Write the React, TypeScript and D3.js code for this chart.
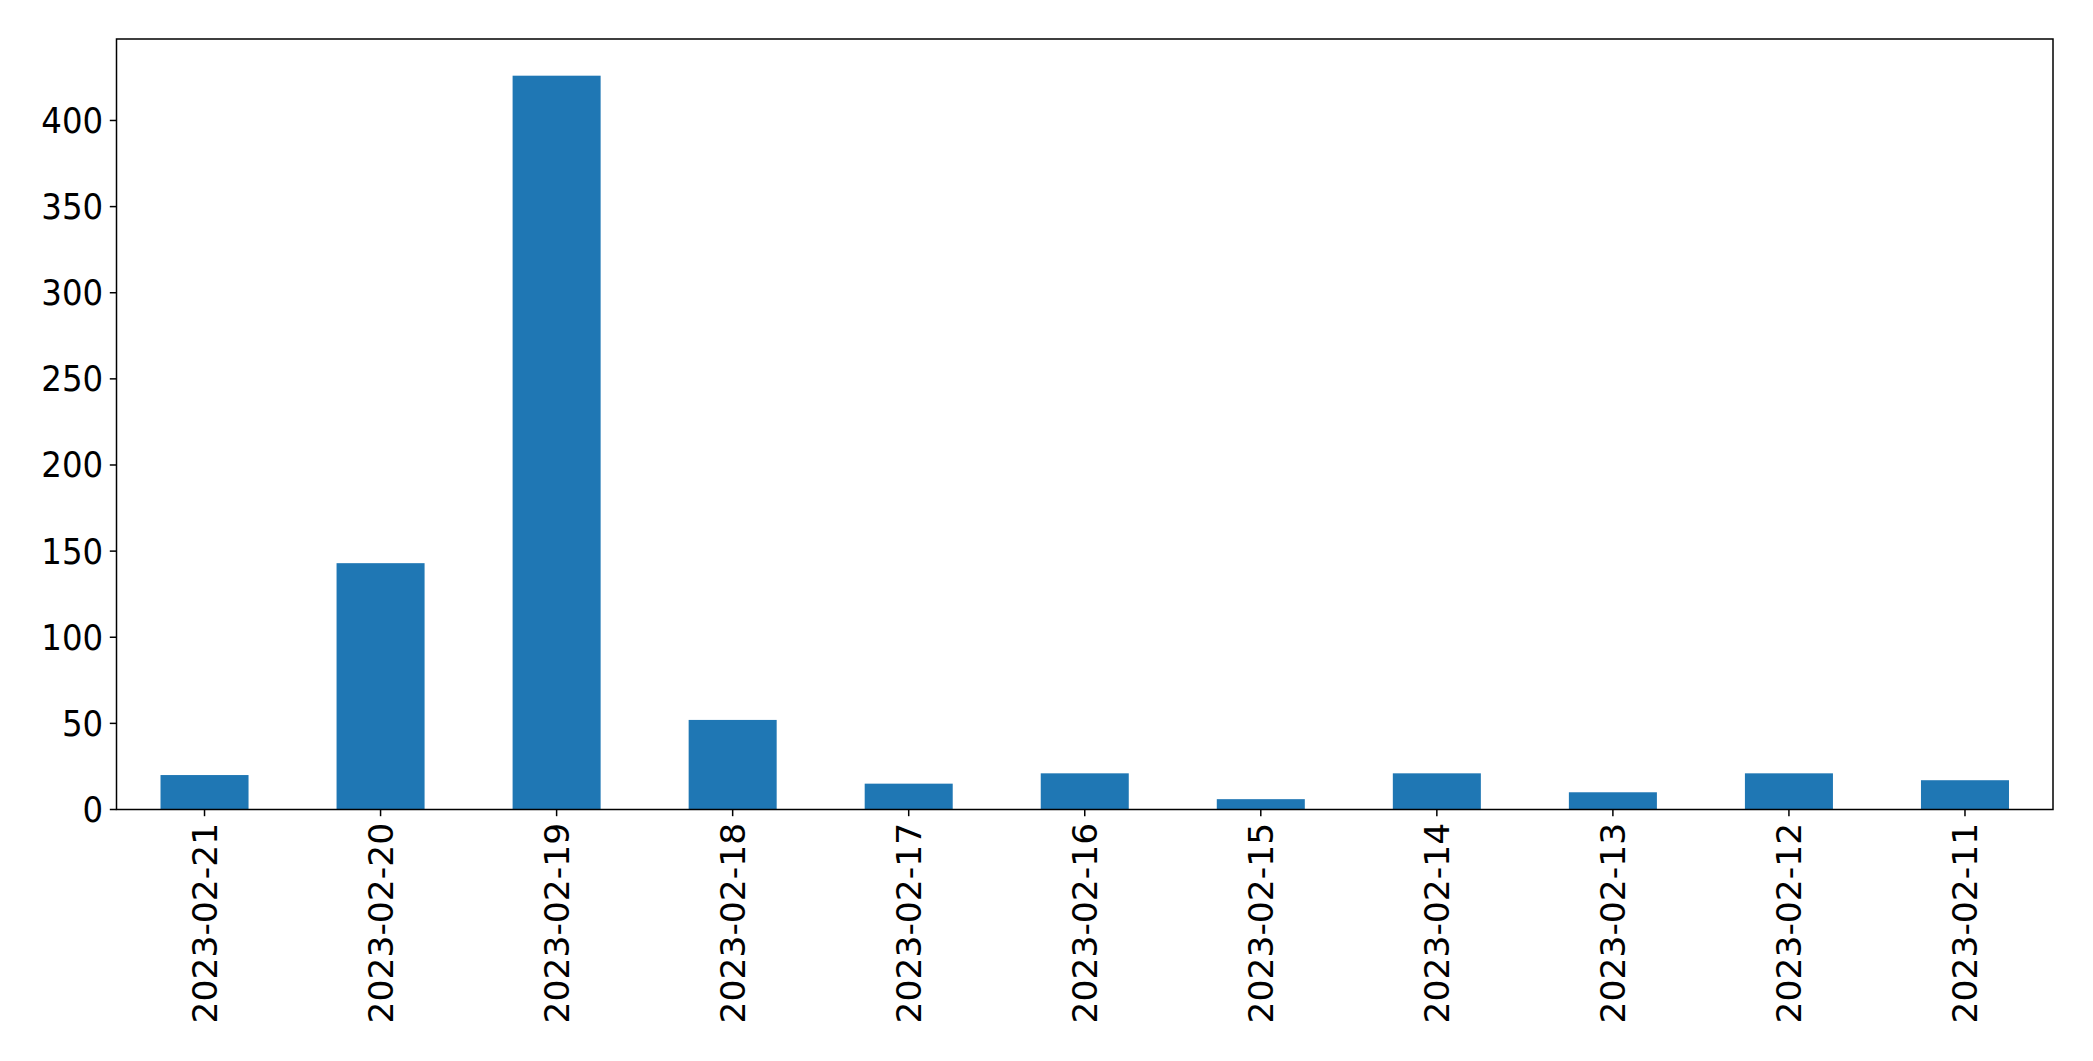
import React from "react";
import * as d3 from "d3";

const categories = [
  "2023-02-21", "2023-02-20", "2023-02-19", "2023-02-18", "2023-02-17", "2023-02-16",
  "2023-02-15", "2023-02-14", "2023-02-13", "2023-02-12", "2023-02-11",
];
const values = [20, 143, 426, 52, 15, 21, 6, 21, 10, 21, 17];
const yTicks = [0, 50, 100, 150, 200, 250, 300, 350, 400];

const W = 2093;
const H = 1061;
const M = { left: 116.5, right: 2053, top: 39, bottom: 809.5 };

export default function App() {
  const x = d3
    .scaleBand<string>()
    .domain(categories)
    .range([M.left, M.right])
    .paddingInner(0.5)
    .paddingOuter(0.25);
  const yMax = (d3.max(values) as number) * 1.05;
  const y = d3.scaleLinear().domain([0, yMax]).range([M.bottom, M.top]);
  const tickLen = 6.7;
  const pad = 6.7;
  const fontSize = 34.5;
  const yFontSize = 36;

  return (
    <svg
      width={W}
      height={H}
      style={{ position: "absolute", left: 0, top: 0, background: "#fff" }}
    >
      <rect x={0} y={0} width={W} height={H} fill="#fff" />
      {categories.map((c, i) => (
        <rect
          key={c}
          x={x(c)}
          y={y(values[i])}
          width={x.bandwidth()}
          height={y(0) - y(values[i])}
          fill="#1f77b4"
        />
      ))}
      <rect
        x={M.left}
        y={M.top}
        width={M.right - M.left}
        height={M.bottom - M.top}
        fill="none"
        stroke="#000"
        strokeWidth={1.5}
      />
      {yTicks.map((t) => (
        <g key={t}>
          <line
            x1={M.left - tickLen}
            x2={M.left}
            y1={y(t)}
            y2={y(t)}
            stroke="#000"
            strokeWidth={1.5}
          />
          <text
            x={M.left - tickLen - pad}
            y={y(t)}
            textAnchor="end"
            dominantBaseline="central"
            fontFamily="'DejaVu Sans Condensed', 'DejaVu Sans', sans-serif"
            fontStretch="condensed"
            fontSize={yFontSize}
            fill="#000"
          >
            {t}
          </text>
        </g>
      ))}
      {categories.map((c) => {
        const cx = (x(c) as number) + x.bandwidth() / 2;
        const ty = M.bottom + tickLen + pad;
        return (
          <g key={c}>
            <line
              x1={cx}
              x2={cx}
              y1={M.bottom}
              y2={M.bottom + tickLen}
              stroke="#000"
              strokeWidth={1.5}
            />
            <text
              transform={`translate(${cx},${ty}) rotate(-90)`}
              textAnchor="end"
              dominantBaseline="central"
              fontFamily="'DejaVu Sans', sans-serif"
              fontSize={fontSize}
              fill="#000"
            >
              {c}
            </text>
          </g>
        );
      })}
    </svg>
  );
}
